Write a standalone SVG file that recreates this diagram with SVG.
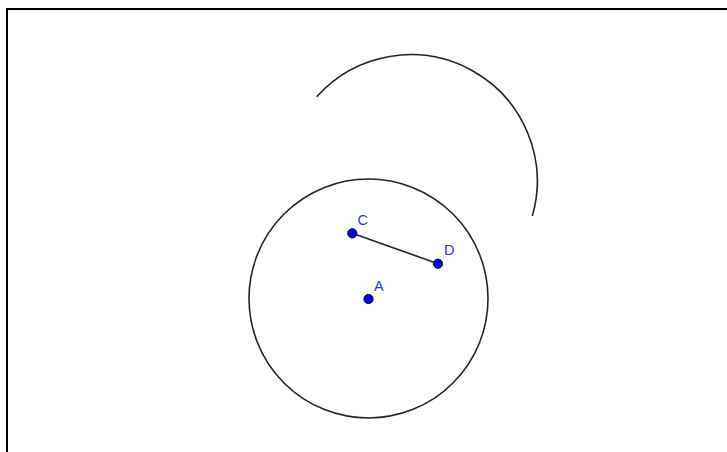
<svg xmlns="http://www.w3.org/2000/svg" width="727" height="452" viewBox="0 0 727 452">
  <style>
    .frame { stroke: #000; stroke-width: 2; fill: none; }
    .curve { stroke: #222; stroke-width: 1.6; fill: none; }
    .pt { fill: #0000d8; stroke: #000040; stroke-width: 1; }
    .lbl { font-family: "Liberation Sans", Arial, sans-serif; font-size: 14.5px; fill: #3333f0; }
  </style>
  <rect width="727" height="452" fill="#fff"/>
  <path class="frame" d="M7 452 V9 H727"/>
  <g id="connectors">
    <path id="arc" class="curve" d="M316.7 96.7 A126.4 126.4 0 0 1 532.3 216"/>
    <circle id="circleA" class="curve" cx="368.5" cy="298.5" r="119.5"/>
    <line id="segCD" class="curve" x1="352.3" y1="233.3" x2="438" y2="263.7"/>
  </g>
  <g id="C">
    <circle class="pt" cx="352.3" cy="233.3" r="4.6"/>
    <text class="lbl" x="357.5" y="225">C</text>
  </g>
  <g id="D">
    <circle class="pt" cx="438" cy="263.7" r="4.6"/>
    <text class="lbl" x="444" y="255">D</text>
  </g>
  <g id="A">
    <circle class="pt" cx="368.5" cy="299" r="4.6"/>
    <text class="lbl" x="374" y="290.5">A</text>
  </g>
</svg>
